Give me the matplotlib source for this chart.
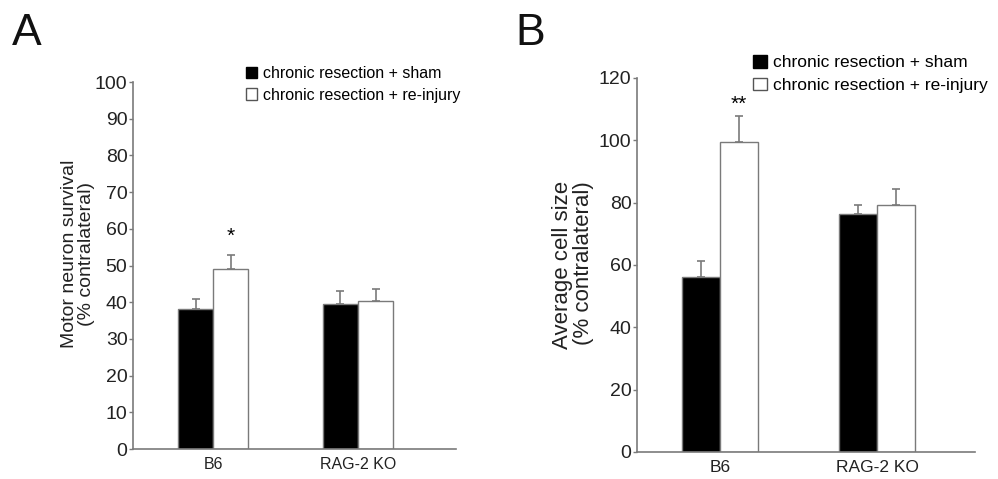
import matplotlib
matplotlib.use("Agg")
from matplotlib import pyplot as plt
from matplotlib.patches import Patch
import numpy as np

groups = ['B6', 'RAG-2 KO']
series = ['chronic resection + sham', 'chronic resection + re-injury']

survival_sham = [38.2, 39.6]
survival_sham_err = [2.7, 3.5]
survival_reinj = [49.1, 40.4]
survival_reinj_err = [3.8, 3.3]

size_sham = [56.3, 76.2]
size_sham_err = [5.1, 3.2]
size_reinj = [99.3, 79.1]
size_reinj_err = [8.6, 5.4]

plt.rcParams['font.family'] = ['Liberation Sans', 'DejaVu Sans']

fig = plt.figure(figsize=(9.98, 4.79), dpi=100)
grey = '#7a7a7a'
txt = '#222222'

def panel(rect, sham, sham_err, reinj, reinj_err, ymax, step, xlim,
          star, star_y, leg_xy, fs):
    ax = fig.add_axes(rect)
    x = np.arange(len(groups))
    w = 0.242
    ax.bar(x - w/2, sham, w, color='black', edgecolor=grey, linewidth=1)
    ax.bar(x + w/2, reinj, w, color='white', edgecolor=grey, linewidth=1)
    ekw = dict(fmt='none', ecolor=grey, elinewidth=1.2, capsize=3, capthick=1.2)
    ax.errorbar(x - w/2, sham, yerr=[np.zeros(2), sham_err], **ekw)
    ax.errorbar(x + w/2, reinj, yerr=[np.zeros(2), reinj_err], **ekw)
    ax.text(x[0] + w/2, star_y, star, ha='center', va='center', fontsize=15)
    ax.set_xlim(*xlim)
    ax.set_ylim(0, ymax)
    ax.set_yticks(np.arange(0, ymax + 1, step))
    ax.set_xticks(x)
    ax.set_xticklabels(groups, fontsize=fs)
    ax.tick_params(axis='x', length=0, pad=6, colors=txt)
    ax.tick_params(axis='y', length=3, width=1, pad=1, labelsize=14,
                   color=grey, labelcolor=txt)
    for s in ['top', 'right']:
        ax.spines[s].set_visible(False)
    for s in ['left', 'bottom']:
        ax.spines[s].set_color(grey)
        ax.spines[s].set_linewidth(1.2)
    handles = [Patch(facecolor='black', edgecolor='black'),
               Patch(facecolor='white', edgecolor='#555555')]
    ax.legend(handles, series, loc='upper left', bbox_to_anchor=leg_xy,
              bbox_transform=fig.transFigure, frameon=False, fontsize=fs,
              handlelength=0.75, handleheight=0.75, handletextpad=0.35,
              labelspacing=0.42, borderaxespad=0, borderpad=0)
    return ax

panel([0.1333, 0.0626, 0.3236, 0.7662], survival_sham, survival_sham_err,
      survival_reinj, survival_reinj_err, 100, 10, (-0.552, 1.676),
      '*', 58, (0.246, 1 - 66/479), 11.5)
panel([0.6383, 0.0564, 0.3387, 0.7808], size_sham, size_sham_err,
      size_reinj, size_reinj_err, 120, 20, (-0.529, 1.624),
      '**', 111.5, (0.755, 1 - 55/479), 12.5)

fig.text(78/998, 1 - 254/479, 'Motor neuron survival\n(% contralateral)',
         rotation=90, ha='center', va='center', fontsize=14, color=txt,
         linespacing=1.05)
fig.text(573/998, 1 - 181/479, 'Average cell size\n(% contralateral)',
         rotation=90, ha='center', va='top', fontsize=16, color=txt,
         linespacing=1.05, multialignment='right')

fig.text(0.012, 1 - 45/479, 'A', fontsize=32, color='#111111')
fig.text(0.516, 1 - 45/479, 'B', fontsize=32, color='#111111')

plt.savefig('out.png', dpi=100)
